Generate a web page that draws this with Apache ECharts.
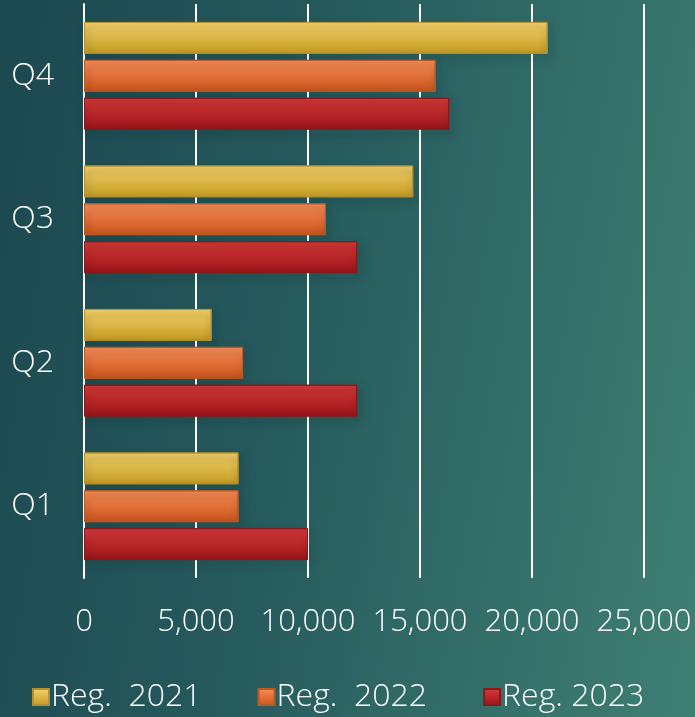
<!DOCTYPE html>
<html>
<head>
<meta charset="utf-8">
<script src="https://cdn.jsdelivr.net/npm/echarts@6/dist/echarts.min.js"></script>
<style>
html, body { margin: 0; padding: 0; }
#chart {
    width: 695px;
    height: 717px;
    background: linear-gradient(100deg, #1c4850 0%, #25595c 40%, #34706a 75%, #3f7f72 100%);
}
</style>
</head>
<body>
<div id="chart"></div>
<script>
// quarters, bottom to top
var quarters = ['Q1', 'Q2', 'Q3', 'Q4'];
var reg2021 = [6900, 5700, 14700, 20700];
var reg2022 = [6900, 7100, 10800, 15700];
var reg2023 = [10000, 12200, 12200, 16300];
var seriesNames = ['Reg.  2021', 'Reg.  2022', 'Reg. 2023'];

var font = 'Open Sans';

function grad(top, bottom) {
    return new echarts.graphic.LinearGradient(0, 0, 0, 1, [
        { offset: 0, color: top },
        { offset: 1, color: bottom }
    ]);
}

function barSeries(name, data, top, bottom, border) {
    return {
        name: name,
        type: 'bar',
        data: data,
        barGap: '19%',
        barCategoryGap: '25%',
        itemStyle: {
            color: grad(top, bottom),
            borderColor: border,
            borderWidth: 1,
            shadowColor: 'rgba(0,0,0,0.55)',
            shadowBlur: 8,
            shadowOffsetX: 2,
            shadowOffsetY: 4
        }
    };
}

var chart = echarts.init(document.getElementById('chart'));
chart.setOption({
    backgroundColor: 'transparent',
    textStyle: { fontFamily: font },
    grid: { left: 84, right: 51, top: 4, bottom: 139, containLabel: false },
    legend: {
        bottom: -1,
        left: 27,
        itemWidth: 16,
        itemHeight: 16,
        itemGap: 56,
        icon: 'rect',
        data: seriesNames,
        textStyle: { color: '#ffffff', fontSize: 32, fontWeight: 300, fontFamily: font, padding: [0, 0, 0, -3] }
    },
    xAxis: {
        type: 'value',
        min: 0,
        max: 25000,
        interval: 5000,
        axisLine: { show: false },
        axisTick: { show: false },
        splitLine: { lineStyle: { color: '#ffffff', width: 2 } },
        axisLabel: {
            color: '#ffffff',
            fontSize: 31,
            fontWeight: 300,
            margin: 29,
            fontFamily: font,
            formatter: function (v) { return v.toLocaleString('en-US'); }
        }
    },
    yAxis: {
        type: 'category',
        data: quarters,
        axisLine: { show: true, lineStyle: { color: '#ffffff', width: 2 } },
        axisTick: { show: false },
        axisLabel: { color: '#ffffff', fontSize: 32, fontWeight: 300, margin: 30, fontFamily: font }
    },
    series: [
        barSeries(seriesNames[0], reg2021, '#f6d46c', '#c39b22', '#b59030'),
        barSeries(seriesNames[1], reg2022, '#fb8f58', '#c8531a', '#b85a28'),
        barSeries(seriesNames[2], reg2023, '#d83a3a', '#9a1418', '#8a1a1a')
    ]
});
</script>
</body>
</html>
